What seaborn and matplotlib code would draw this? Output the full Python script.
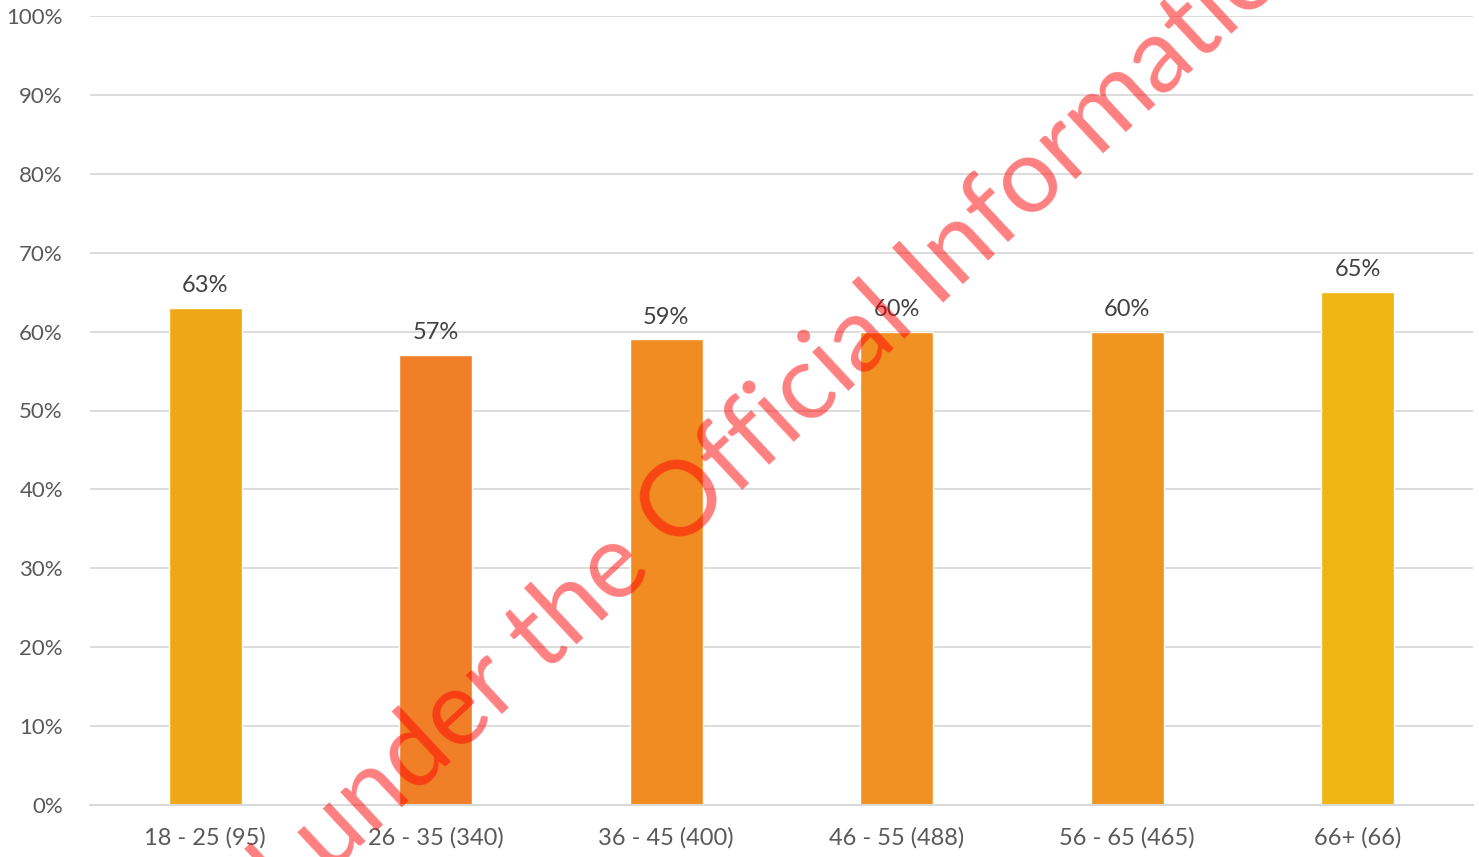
import math
import matplotlib
matplotlib.use("Agg")
import matplotlib.pyplot as plt
import seaborn as sns
import pandas as pd

# Age bands with respondent counts, and share agreeing
age_groups = ["18 - 25 (95)", "26 - 35 (340)", "36 - 45 (400)",
              "46 - 55 (488)", "56 - 65 (465)", "66+ (66)"]
shares = [0.63, 0.57, 0.59, 0.60, 0.60, 0.65]
bar_colors = ["#EEA717", "#F07F27", "#F08C22", "#F09122", "#F09520", "#EFB513"]
y_ticks = [0.0, 0.1, 0.2, 0.3, 0.4, 0.5, 0.6, 0.7, 0.8, 0.9, 1.0]
watermark_head = "Released under the Official "
watermark_tail = "Information Act 1982"

sns.set_theme(style="white")
plt.rcParams["font.family"] = ["Lato", "DejaVu Sans"]

W, H = 1479, 857
fig = plt.figure(figsize=(W / 100, H / 100), dpi=100)
ax = fig.add_axes([90 / W, 1 - 805 / H, (1473 - 90) / W, (805 - 16) / H])

df = pd.DataFrame({"group": age_groups, "share": shares})
sns.barplot(data=df, x="group", y="share", hue="group", order=age_groups,
            hue_order=age_groups, palette=bar_colors, width=0.317,
            legend=False, saturation=1, ax=ax, zorder=2)

ax.set_ylim(0, 1)
ax.set_xlim(-0.5, len(age_groups) - 0.5)
ax.set_yticks(y_ticks)
ax.set_yticklabels([f"{int(round(t * 100))}%" for t in y_ticks])
ax.yaxis.grid(True, color="#D9D9D9", linewidth=1.3, zorder=0)
ax.set_axisbelow(True)
for side in ["left", "right", "top"]:
    ax.spines[side].set_visible(False)
ax.spines["bottom"].set_color("#D9D9D9")
ax.spines["bottom"].set_linewidth(1.5)
ax.tick_params(axis="both", length=0, colors="#595959")
ax.tick_params(axis="y", pad=19.5, labelsize=16)
ax.tick_params(axis="x", pad=16, labelsize=17)
ax.set_xlabel("")
ax.set_ylabel("")

# Value labels above each bar
for i, v in enumerate(shares):
    ax.annotate(f"{int(round(v * 100))}%", (i, v), xytext=(0, 8.5),
                textcoords="offset points", ha="center", va="bottom",
                fontsize=17, color="#404040")

# Diagonal release watermark: place it so "Information" starts at a set point
angle = 43
wm_size = 75
renderer = fig.canvas.get_renderer()
probe = fig.text(0, 0, watermark_head, fontsize=wm_size)
head_w = probe.get_window_extent(renderer).width
probe.remove()
tx, ty = 936, H - 308
sx = tx - head_w * math.cos(math.radians(angle))
sy = ty - head_w * math.sin(math.radians(angle))
fig.text(sx / W, sy / H, watermark_head + watermark_tail, rotation=angle,
         rotation_mode="anchor", ha="left", va="baseline", fontsize=wm_size,
         color="red", alpha=0.5, zorder=10)

fig.savefig("out.png", dpi=100)
